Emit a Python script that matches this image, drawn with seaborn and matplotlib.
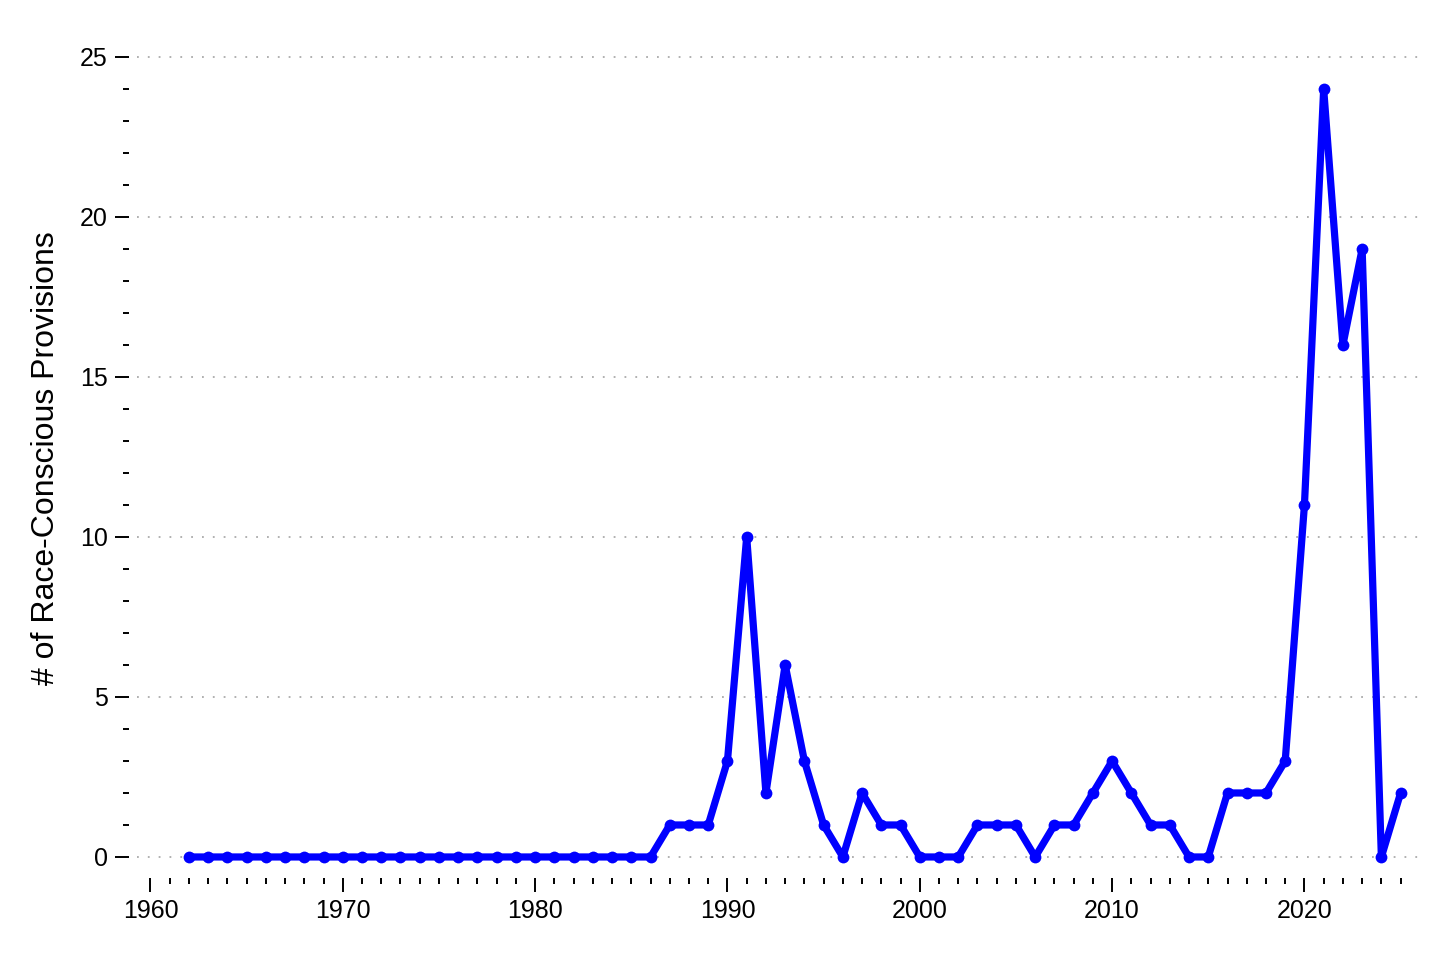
import matplotlib
matplotlib.use("Agg")
import matplotlib.pyplot as plt
import numpy as np
import pandas as pd
import seaborn as sns
from matplotlib.ticker import MultipleLocator, FixedLocator

# ---- data ----
years = list(range(1962, 2026))
counts = [0, 0, 0, 0, 0, 0, 0, 0, 0, 0,
          0, 0, 0, 0, 0, 0, 0, 0, 0, 0,
          0, 0, 0, 0, 0,
          1, 1, 1, 3, 10, 2, 6, 3, 1, 0,
          2, 1, 1, 0, 0, 0, 1, 1, 1, 0,
          1, 1, 2, 3, 2, 1, 1, 0, 0, 2,
          2, 2, 3, 11, 24, 16, 19, 0, 2]
x_major_ticks = [1960, 1970, 1980, 1990, 2000, 2010, 2020]
y_major_ticks = [0, 5, 10, 15, 20, 25]
y_label = "# of Race-Conscious Provisions"

df = pd.DataFrame({"year": years, "count": counts})

sns.set_theme(style="white")
plt.rcParams["font.family"] = ["Liberation Sans", "DejaVu Sans"]

fig = plt.figure(figsize=(14.56, 9.71), dpi=100)
ax = fig.add_axes([0.0941, 0.1059, 0.9745 - 0.0941, 0.9512 - 0.1059])

sns.lineplot(data=df, x="year", y="count", ax=ax, color="#0000ff",
             linewidth=5.2, marker="o", markersize=8.5, markeredgewidth=0,
             zorder=3)

ax.set_xlim(1959.3, 2025.95)
ax.set_ylim(-0.35, 25.3)

ax.xaxis.set_major_locator(FixedLocator(x_major_ticks))
ax.xaxis.set_minor_locator(MultipleLocator(1))
ax.yaxis.set_major_locator(FixedLocator(y_major_ticks))
ax.yaxis.set_minor_locator(MultipleLocator(1))

for s in ["top", "right"]:
    ax.spines[s].set_visible(False)
ax.spines["bottom"].set_position(("outward", 7))
ax.spines["left"].set_position(("outward", 6))
ax.spines["bottom"].set_visible(False)
ax.spines["left"].set_visible(False)

ax.tick_params(axis="both", which="major", direction="out", length=10,
               width=1.4, color="black", labelsize=18, pad=5,
               bottom=True, left=True, labelcolor="black")
ax.tick_params(axis="both", which="minor", direction="out", length=4.5,
               width=1.4, color="black", bottom=True, left=True)

ax.yaxis.grid(True, which="major", linestyle=(0, (1, 5)), linewidth=1.3,
              color="#aaaaaa")
ax.xaxis.grid(False)
ax.set_axisbelow(True)

ax.set_xlabel("")
ax.set_ylabel(y_label, fontsize=23, color="black", labelpad=14)

fig.savefig("out.png", dpi=100)
